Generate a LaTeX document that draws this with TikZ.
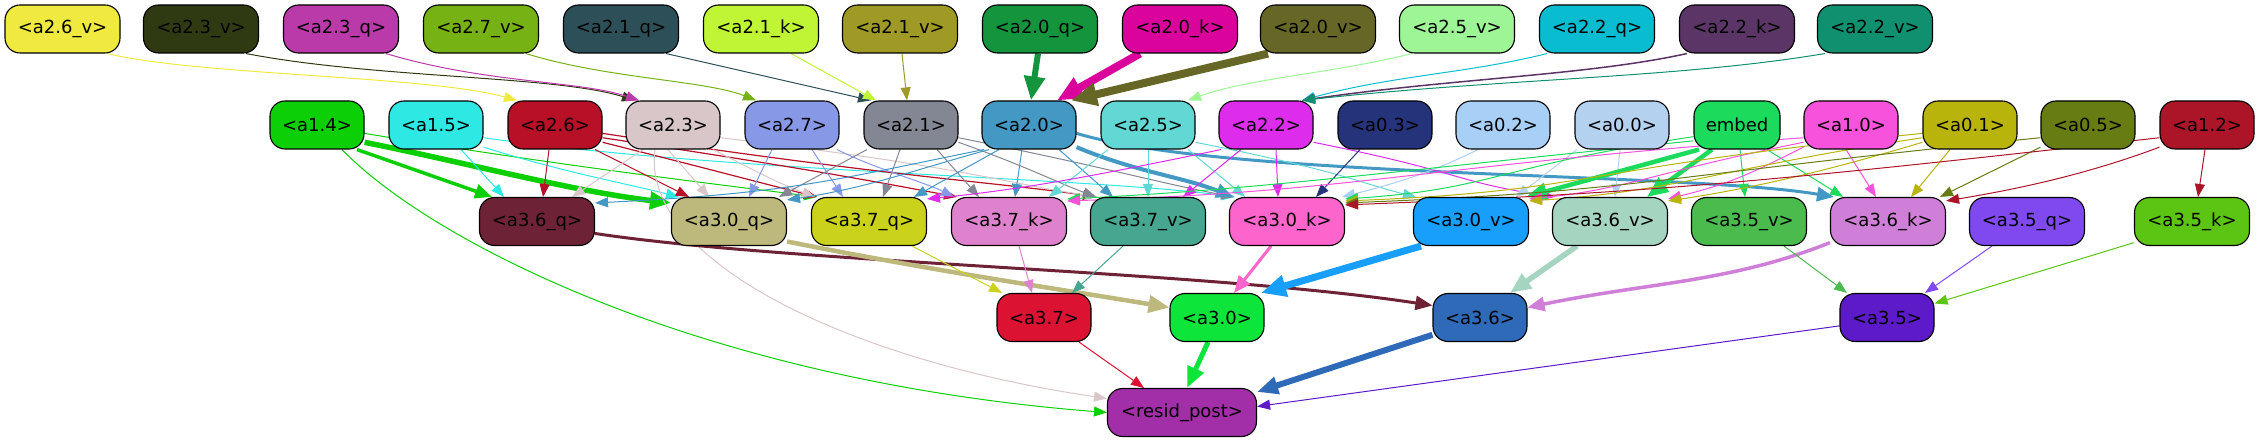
\documentclass[tikz,border=0pt]{standalone}
\usepackage{fontspec}
\setmainfont{DejaVu Sans}
\usetikzlibrary{arrows.meta,backgrounds}
\definecolor{c26v}{HTML}{F0EA40}\definecolor{c23v}{HTML}{2F3A12}\definecolor{c23q}{HTML}{B93AA8}
\definecolor{c27v}{HTML}{77B215}\definecolor{c21q}{HTML}{2D5058}\definecolor{c21k}{HTML}{C0F535}
\definecolor{c21v}{HTML}{9E9A25}\definecolor{c20q}{HTML}{15943E}\definecolor{c20k}{HTML}{DA049C}
\definecolor{c20v}{HTML}{666626}\definecolor{c25v}{HTML}{9EF596}\definecolor{c22q}{HTML}{09BCD0}
\definecolor{c22k}{HTML}{5A3565}\definecolor{c22v}{HTML}{119070}
\definecolor{c14}{HTML}{0CCF06}\definecolor{c15}{HTML}{2EE8E3}\definecolor{c26}{HTML}{B81027}
\definecolor{c23}{HTML}{D9C6C8}\definecolor{c27}{HTML}{8799E6}\definecolor{c21}{HTML}{838693}
\definecolor{c20}{HTML}{4398C4}\definecolor{c25}{HTML}{62D8D4}\definecolor{c22}{HTML}{DE2CED}
\definecolor{c03}{HTML}{24337A}\definecolor{c02}{HTML}{A8D0F7}\definecolor{c00}{HTML}{B5D1F0}
\definecolor{cemb}{HTML}{1CDB5C}\definecolor{c10}{HTML}{F652DB}\definecolor{c01}{HTML}{B9B40C}
\definecolor{c05}{HTML}{687C14}\definecolor{c12}{HTML}{AC1528}
\definecolor{cq36}{HTML}{6E2236}\definecolor{cq30}{HTML}{BDB87C}\definecolor{cq37}{HTML}{CBD21C}
\definecolor{ck37}{HTML}{DF82CD}\definecolor{cv37}{HTML}{46A690}\definecolor{ck30}{HTML}{FD64CC}
\definecolor{cv30}{HTML}{179FFB}\definecolor{cv36}{HTML}{A5D5C0}\definecolor{cv35}{HTML}{4ABB4C}
\definecolor{ck36}{HTML}{D07FD8}\definecolor{cq35}{HTML}{8049F0}\definecolor{ck35}{HTML}{5CC413}
\definecolor{cr37}{HTML}{DC1232}\definecolor{cr30}{HTML}{0EE53B}\definecolor{cr36}{HTML}{2E6AB8}
\definecolor{cr35}{HTML}{5C1AC8}\definecolor{cres}{HTML}{A22FA8}
\newcommand\nfs{\fontsize{18pt}{20pt}\selectfont}
\tikzset{
 nd/.style={draw=black, line width=1.1pt, rounded corners=15pt, minimum height=48pt, inner sep=0pt, font=\nfs, text=black},
 wq/.style={nd, minimum width=115pt},
 wm/.style={nd, minimum width=94pt},
 w1/.style={line width=1pt, -{Triangle[length=13pt,width=10pt]}},
 w2/.style={line width=2.5pt, -{Triangle[length=17pt,width=14pt]}},
 w3/.style={line width=4.5pt, -{Triangle[length=21pt,width=17pt]}},
 w4/.style={line width=7pt, -{Triangle[length=25pt,width=21pt]}},
}
\begin{document}
\begin{tikzpicture}[x=1pt,y=-1pt]
\useasboundingbox (0,0) rectangle (2261,443);
% top row
\node[wq,fill=c26v] (n26v) at (62.5,29) {<a2.6\_v>};
\node[wq,fill=c23v] (n23v) at (201,29) {<a2.3\_v>};
\node[wq,fill=c23q] (n23q) at (341,29) {<a2.3\_q>};
\node[wq,fill=c27v] (n27v) at (481,29) {<a2.7\_v>};
\node[wq,fill=c21q] (n21q) at (621,29) {<a2.1\_q>};
\node[wq,fill=c21k] (n21k) at (761,29) {<a2.1\_k>};
\node[wq,fill=c21v] (n21v) at (900,29) {<a2.1\_v>};
\node[wq,fill=c20q] (n20q) at (1040,29) {<a2.0\_q>};
\node[wq,fill=c20k] (n20k) at (1180,29) {<a2.0\_k>};
\node[wq,fill=c20v] (n20v) at (1318,29) {<a2.0\_v>};
\node[wq,fill=c25v] (n25v) at (1457,29) {<a2.5\_v>};
\node[wq,fill=c22q] (n22q) at (1597,29) {<a2.2\_q>};
\node[wq,fill=c22k] (n22k) at (1737,29) {<a2.2\_k>};
\node[wq,fill=c22v] (n22v) at (1875,29) {<a2.2\_v>};
% middle row
\node[wm,fill=c14] (m14) at (317,125) {<a1.4>};
\node[wm,fill=c15] (m15) at (436,125) {<a1.5>};
\node[wm,fill=c26] (m26) at (555,125) {<a2.6>};
\node[wm,fill=c23] (m23) at (673,125) {<a2.3>};
\node[wm,fill=c27] (m27) at (792,125) {<a2.7>};
\node[wm,fill=c21] (m21) at (911,125) {<a2.1>};
\node[wm,fill=c20] (m20) at (1029,125) {<a2.0>};
\node[wm,fill=c25] (m25) at (1148,125) {<a2.5>};
\node[wm,fill=c22] (m22) at (1266,125) {<a2.2>};
\node[wm,fill=c03] (m03) at (1385,125) {<a0.3>};
\node[wm,fill=c02] (m02) at (1503,125) {<a0.2>};
\node[wm,fill=c00] (m00) at (1622,125) {<a0.0>};
\node[nd,minimum width=86pt,fill=cemb] (emb) at (1737,125) {embed};
\node[wm,fill=c10] (m10) at (1851,125) {<a1.0>};
\node[wm,fill=c01] (m01) at (1970,125) {<a0.1>};
\node[wm,fill=c05] (m05) at (2088,125) {<a0.5>};
\node[wm,fill=c12] (m12) at (2207,125) {<a1.2>};
% row 3
\node[wq,fill=cq36] (q36) at (537,221.5) {<a3.6\_q>};
\node[wq,fill=cq30] (q30) at (729,221.5) {<a3.0\_q>};
\node[wq,fill=cq37] (q37) at (869,221.5) {<a3.7\_q>};
\node[wq,fill=ck37] (k37) at (1009,221.5) {<a3.7\_k>};
\node[wq,fill=cv37] (v37) at (1148,221.5) {<a3.7\_v>};
\node[wq,fill=ck30] (k30) at (1287,221.5) {<a3.0\_k>};
\node[wq,fill=cv30] (v30) at (1471,221.5) {<a3.0\_v>};
\node[wq,fill=cv36] (v36) at (1610,221.5) {<a3.6\_v>};
\node[wq,fill=cv35] (v35) at (1749,221.5) {<a3.5\_v>};
\node[wq,fill=ck36] (k36) at (1888,221.5) {<a3.6\_k>};
\node[wq,fill=cq35] (q35) at (2027,221.5) {<a3.5\_q>};
\node[wq,fill=ck35] (k35) at (2192,221.5) {<a3.5\_k>};
% row 4
\node[wm,fill=cr37] (r37) at (1044,317.5) {<a3.7>};
\node[wm,fill=cr30] (r30) at (1217,317.5) {<a3.0>};
\node[wm,fill=cr36] (r36) at (1480,317.5) {<a3.6>};
\node[wm,fill=cr35] (r35) at (1887,317.5) {<a3.5>};
\node[nd,minimum width=149pt,fill=cres] (res) at (1182,412.5) {<resid\_post>};

\begin{scope}[on background layer]
% top -> middle
\draw[w1,c26v] ([xshift=45]n26v.south) .. controls +(90,22) and +(-90,-25) .. ([xshift=-38]m26.north);
\draw[w1,c23v] ([xshift=45]n23v.south) .. controls +(130,25) and +(-80,-25) .. ([xshift=-38]m23.north);
\draw[w1,c23q] ([xshift=45]n23q.south) .. controls +(100,30) and +(-60,-20) .. ([xshift=-34]m23.north);
\draw[w1,c27v] ([xshift=45]n27v.south) .. controls +(80,25) and +(-50,-20) .. ([xshift=-36]m27.north);
\draw[w1,c21q] ([xshift=45]n21q.south) -- ([xshift=-40]m21.north);
\draw[w1,c21k] ([xshift=30]n21k.south) -- ([xshift=-35]m21.north);
\draw[w1,c21v] ([xshift=2]n21v.south) -- ([xshift=-4]m21.north);
\draw[line width=6pt,-{Triangle[length=24pt,width=20pt]},c20q] ([xshift=-2]n20q.south) -- ([xshift=2]m20.north);
\draw[line width=8pt,-{Triangle[length=26pt,width=22pt]},c20k] ([xshift=-40]n20k.south) -- ([xshift=28]m20.north);
\draw[line width=8pt,-{Triangle[length=26pt,width=22pt]},c20v] ([xshift=-50]n20v.south) -- ([xshift=42]m20.north);
\draw[w1,c25v] ([xshift=-45]n25v.south) .. controls +(-80,20) and +(60,-22) .. ([xshift=40]m25.north);
\draw[w1,c22q] ([xshift=-50]n22q.south) .. controls +(-80,20) and +(90,-25) .. ([xshift=36]m22.north);
\draw[w1,c22k,line width=1.5pt] ([xshift=-50]n22k.south) .. controls +(-100,22) and +(150,-22) .. ([xshift=36]m22.north);
\draw[w1,c22v] ([xshift=-50]n22v.south) .. controls +(-150,25) and +(200,-22) .. ([xshift=36]m22.north);
% a1.4
\draw[w2,c14,line width=3.5pt] ([xshift=40]m14.south) -- ([xshift=-45]q36.north);
\draw[w3,c14,line width=5.5pt] (m14.-20) .. controls +(100,20) and +(-100,-12) .. ([yshift=-6]q30.north west);
\draw[w1,c14] (m14.-10) .. controls +(180,30) and +(-120,-15) .. ([xshift=-52]q37.north);
\draw[w1,c14] ([xshift=25]m14.south) .. controls +(88,91) and +(-408,-32) .. (res.west);
% a1.5
\draw[w1,c15] ([xshift=25]m15.south) -- ([xshift=-33]q36.north);
\draw[w1,c15] (m15.-25) .. controls +(80,25) and +(-60,-15) .. ([xshift=-50]q30.north);
\draw[w1,c15] (m15.-15) .. controls +(250,35) and +(-150,-20) .. ([xshift=-52]k30.north);
% a2.6
\draw[w1,c26] ([xshift=-6]m26.south) -- ([xshift=6]q36.north);
\draw[w1,c26] ([xshift=40]m26.south) -- ([xshift=-40]q30.north);
\draw[w1,c26,line width=1.2pt] (m26.-20) .. controls +(100,25) and +(-60,-15) .. ([xshift=-52]q37.north);
\draw[w1,c26,line width=1.2pt] (m26.-15) .. controls +(200,30) and +(-80,-15) .. ([xshift=-52]k37.north);
\draw[w1,c26,line width=1.2pt] (m26.-10) .. controls +(300,45) and +(-100,-15) .. ([xshift=-52]v37.north);
% a2.3
\draw[w1,c23] ([xshift=-30]m23.south) -- ([xshift=35]q36.north);
\draw[w1,c23] ([xshift=-5]m23.south) -- ([xshift=-20]q30.north);
\draw[w1,c23] ([xshift=40]m23.south) .. controls +(40,20) and +(-40,-15) .. ([xshift=-54]q37.north);
\draw[w1,c23] ([xshift=-18]m23.south) .. controls +(-15,111) and +(-258,-38) .. ([yshift=14]res.west);
\draw[w1,c23] (m23.-15) .. controls +(250,30) and +(-100,-15) .. ([xshift=-50]v37.north);
% a2.7
\draw[w1,c27] ([xshift=-20]m27.south) -- ([xshift=20]q30.north);
\draw[w1,c27] ([xshift=20]m27.south) -- ([xshift=-26]q37.north);
\draw[w1,c27] ([xshift=45]m27.south) .. controls +(40,20) and +(-30,-15) .. ([xshift=-55]k37.north);
% a2.1
\draw[w1,c21] ([xshift=-44]m21.south) -- ([xshift=50]q30.north);
\draw[w1,c21] ([xshift=-11]m21.south) -- ([xshift=14]q37.north);
\draw[w1,c21] ([xshift=26]m21.south) -- ([xshift=-30]k37.north);
\draw[w1,c21] (m21.-20) .. controls +(70,25) and +(-40,-15) .. ([xshift=-52]v37.north);
\draw[w1,c21] (m21.-15) .. controls +(150,30) and +(-80,-15) .. ([xshift=-53]k30.north);
% a2.0
\draw[w1,c20] ([xshift=-45]m20.south) .. controls +(-150,30) and +(200,-10) .. ([yshift=-6]q36.north east);
\draw[w1,c20] ([xshift=-40]m20.south) .. controls +(-80,22) and +(80,-12) .. ([yshift=-3]q30.north east);
\draw[w1,c20] ([xshift=-30]m20.south) -- ([xshift=45]q37.north);
\draw[w1,c20] ([xshift=-7]m20.south) -- ([xshift=6]k37.north);
\draw[w1,c20] ([xshift=30]m20.south) -- ([xshift=-35]v37.north);
\draw[w2,c20,line width=4pt] (m20.-25) .. controls +(60,25) and +(-50,-20) .. ([xshift=-54]k30.north);
\draw[w2,c20,line width=3pt] (m20.-10) .. controls +(150,45) and +(-150,-25) .. ([xshift=-54]k36.north);
% a2.5
\draw[w1,c25] ([xshift=-40]m25.south) -- ([xshift=40]k37.north);
\draw[w1,c25] (m25.south) -- (v37.north);
\draw[w1,c25] ([xshift=40]m25.south) -- ([xshift=-42]k30.north);
\draw[w1,c25] (m25.-20) .. controls +(150,30) and +(-60,-15) .. ([xshift=-55]v30.north);
% a2.2
\draw[w1,c22] ([xshift=-45]m22.south) .. controls +(-120,25) and +(100,-10) .. ([yshift=-2]q37.north east);
\draw[w1,c22] ([xshift=-25]m22.south) -- ([xshift=35]v37.north);
\draw[w1,c22] ([xshift=10]m22.south) -- ([xshift=-9]k30.north);
\draw[w1,c22] (m22.-20) .. controls +(150,30) and +(-100,-15) .. ([xshift=-55]v36.north);
% a0.3, a0.2, a0.0
\draw[w1,c03] ([xshift=-25]m03.south) -- ([xshift=29]k30.north);
\draw[w1,c02] ([xshift=-25]m02.south) .. controls +(-40,20) and +(60,-15) .. ([xshift=55]k30.north);
\draw[w1,c00] ([xshift=-45]m00.south) -- ([xshift=45]v30.north);
\draw[w1,c00] ([xshift=-2]m00.south) -- ([xshift=5]v36.north);
% embed
\draw[w3,cemb] ([xshift=-38]emb.south) -- ([xshift=55]v30.north);
\draw[w3,cemb] ([xshift=-25]emb.south) -- ([xshift=37]v36.north);
\draw[w1,cemb] ([xshift=3]emb.south) -- ([xshift=-4]v35.north);
\draw[w1,cemb] ([xshift=30]emb.south) -- ([xshift=-45]k36.north);
\draw[w1,cemb] (emb.-160) .. controls +(-300,30) and +(200,-10) .. ([yshift=-2]k37.north east);
\draw[w1,cemb] (emb.-165) .. controls +(-200,30) and +(150,-10) .. ([yshift=-2]k30.north east);
% a1.0
\draw[w1,c10] ([xshift=-5]m10.south) -- ([xshift=-12]k36.north);
\draw[w1,c10] (m10.-155) .. controls +(-60,30) and +(60,-15) .. ([yshift=-2]v36.north east);
\draw[w1,c10] (m10.-160) .. controls +(-150,30) and +(100,-10) .. ([yshift=-2]v30.north east);
\draw[w1,c10] (m10.-165) .. controls +(-400,30) and +(300,-10) .. ([yshift=-4]k37.north east);
% a0.1
\draw[w1,c01] ([xshift=-20]m01.south) -- ([xshift=23]k36.north);
\draw[w1,c01] (m01.-160) .. controls +(-100,30) and +(80,-12) .. ([yshift=-4]v36.north east);
\draw[w1,c01] (m01.-165) .. controls +(-200,30) and +(150,-10) .. ([yshift=-4]v30.north east);
\draw[w1,c01] (m01.-170) .. controls +(-350,35) and +(250,-10) .. ([yshift=-4]k30.north east);
% a0.5
\draw[w1,c05] (m05.-155) -- ([xshift=52]k36.north);
\draw[w1,c05] (m05.-165) .. controls +(-400,40) and +(300,-12) .. ([yshift=-6]k30.north east);
% a1.2
\draw[w1,c12] ([xshift=-2]m12.south) -- ([xshift=6]k35.north);
\draw[w1,c12] (m12.-155) .. controls +(-80,30) and +(60,-10) .. ([yshift=-4]k36.north east);
\draw[w1,c12] (m12.-165) .. controls +(-400,45) and +(300,-12) .. ([yshift=-8]k30.north east);
% row 3 -> row 4
\draw[w2,cq36,line width=3pt] ([yshift=-12]q36.east) .. controls +(200,30) and +(-230,-35) .. ([yshift=12]r36.west);
\draw[w3,cq30] ([yshift=-20]q30.east) .. controls +(150,30) and +(-120,-20) .. ([yshift=10]r30.west);
\draw[w1,cq37] ([xshift=43]q37.south) -- ([xshift=-42]r37.north);
\draw[w1,ck37] ([xshift=10]k37.south) -- ([xshift=-12]r37.north);
\draw[w1,cv37] ([xshift=-25]v37.south) -- ([xshift=28]r37.north);
\draw[w2,ck30,line width=3pt] ([xshift=-16]k30.south) -- ([xshift=17]r30.north);
\draw[w4,cv30] ([xshift=-50]v30.south) -- ([xshift=44]r30.north);
\draw[w3,cv36,line width=5.5pt] ([xshift=-33]v36.south) -- ([xshift=30]r36.north);
\draw[w2,ck36,line width=3.5pt] (k36.-160) .. controls +(-100,40) and +(120,-25) .. ([yshift=10]r36.east);
\draw[w1,cv35] ([xshift=35]v35.south) -- ([xshift=-40]r35.north);
\draw[w1,cq35] ([xshift=-35]q35.south) -- ([xshift=38]r35.north);
\draw[w1,ck35] (k35.-160) -- ([yshift=14]r35.east);
% row 4 -> resid_post
\draw[w1,cr37] ([xshift=35]r37.south) -- ([xshift=-38]res.north);
\draw[w3,cr30,line width=5pt] ([xshift=-9]r30.south) -- ([xshift=5]res.north);
\draw[w3,cr36,line width=6pt] (r36.-160) -- ([yshift=-4]res.north east);
\draw[w1,cr35] (r35.-170) -- ([yshift=6]res.east);
\end{scope}
\end{tikzpicture}
\end{document}
